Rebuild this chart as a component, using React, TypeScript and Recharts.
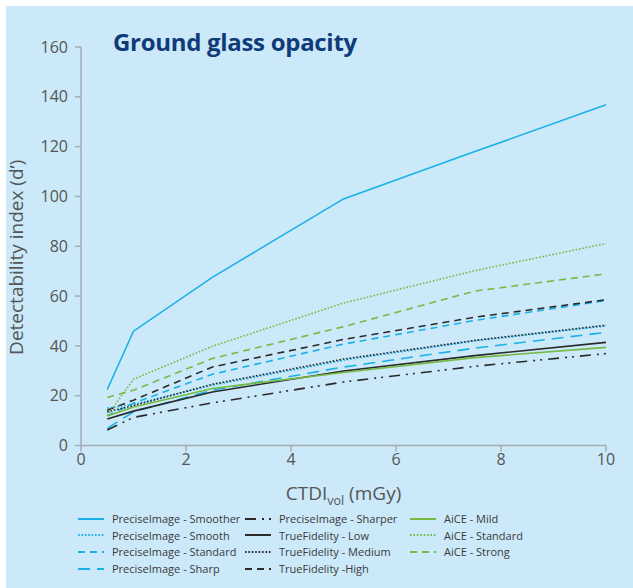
import React from "react"
import { CartesianGrid, Line, LineChart, XAxis, YAxis } from "recharts"

// dose points (CTDIvol, mGy)
const doses = [0.5, 1, 2.5, 5, 7.5, 10]

// detectability index d' per reconstruction
const piSmoother = [22.5, 45.9, 67.5, 99, 118, 136.8]
const piSmooth = [15, 16.5, 24.2, 34.2, 42, 48]
const piStandard = [12, 17, 28.6, 40.7, 50.2, 58.2]
const piSharp = [6.9, 13.5, 22.2, 31.5, 39.1, 45.4]
const piSharper = [6.2, 11.3, 17.1, 25.5, 31.8, 36.9]
const tfLow = [10.6, 13.8, 21.5, 29.9, 36.1, 41.4]
const tfMedium = [13.5, 16, 24.6, 34.7, 42.2, 48.3]
const tfHigh = [14.2, 18.2, 31.5, 42.6, 51.5, 58.5]
const aiceMild = [11.8, 15.5, 22.9, 29.3, 35.3, 39.4]
const aiceStandard = [12, 26.6, 39.8, 57.2, 70.2, 81.1]
const aiceStrong = [19.3, 22.2, 34.9, 47.7, 62, 68.9]

const xTicks = [0, 2, 4, 6, 8, 10]
const yTicks = [0, 20, 40, 60, 80, 100, 120, 140, 160]

const BLUE = "#1ab0e8"
const BLACK = "#2a2a2a"
const GREEN = "#78b944"
const DOT = "1.6 1.8"
const DASH = "7 5"
const LONG = "12 7"
const DASHDOT = "11 6 2 5 2 6"

const series = [
  { key: "piSmoother", name: "PreciseImage - Smoother", values: piSmoother, color: BLUE, dash: undefined },
  { key: "piSmooth", name: "PreciseImage - Smooth", values: piSmooth, color: BLUE, dash: DOT },
  { key: "piStandard", name: "PreciseImage - Standard", values: piStandard, color: BLUE, dash: DASH },
  { key: "piSharp", name: "PreciseImage - Sharp", values: piSharp, color: BLUE, dash: LONG },
  { key: "piSharper", name: "PreciseImage - Sharper", values: piSharper, color: BLACK, dash: DASHDOT },
  { key: "tfLow", name: "TrueFidelity - Low", values: tfLow, color: BLACK, dash: undefined },
  { key: "tfMedium", name: "TrueFidelity - Medium", values: tfMedium, color: BLACK, dash: DOT },
  { key: "tfHigh", name: "TrueFidelity -High", values: tfHigh, color: BLACK, dash: DASH },
  { key: "aiceMild", name: "AiCE - Mild", values: aiceMild, color: GREEN, dash: undefined },
  { key: "aiceStandard", name: "AiCE - Standard", values: aiceStandard, color: GREEN, dash: DOT },
  { key: "aiceStrong", name: "AiCE - Strong", values: aiceStrong, color: GREEN, dash: DASH },
]

const data = doses.map((dose, i) => {
  const row: Record<string, number> = { dose }
  series.forEach((s) => (row[s.key] = s.values[i]))
  return row
})

const FONT = "'Open Sans', 'Noto Sans', sans-serif"
const AXIS = "#a3abb3"

const legendCols = [
  { left: 78, items: series.slice(0, 4) },
  { left: 245, items: series.slice(4, 8) },
  { left: 410, items: series.slice(8) },
]

const Legend = () => (
  <div style={{ position: "absolute", left: 0, top: 510, fontFamily: FONT, fontSize: 11, color: "#3a3a3a" }}>
    {legendCols.map((col) =>
      col.items.map((s, ri) => (
        <div
          key={s.key}
          style={{ position: "absolute", left: col.left, top: ri * 16.7, height: 17, display: "flex", alignItems: "center", whiteSpace: "nowrap" }}
        >
          <svg width={26} height={6} style={{ marginRight: 8 }}>
            <line x1={0} y1={3} x2={26} y2={3} stroke={s.color} strokeWidth={2} strokeDasharray={s.dash} />
          </svg>
          {s.name}
        </div>
      ))
    )}
  </div>
)

const App: React.FC = () => {
  return (
    <div style={{ position: "absolute", left: 0, top: 0, width: 633, height: 588, background: "#fff", overflow: "hidden" }}>
      <div style={{ position: "absolute", left: 6, top: 6, right: 0, bottom: 0, background: "#cbe9f9" }} />
      <div
        style={{
          position: "absolute",
          left: 113,
          top: 25,
          fontFamily: FONT,
          fontWeight: 700,
          fontSize: 24,
          color: "#0f3b78",
          letterSpacing: -0.3,
          whiteSpace: "nowrap",
        }}
      >
        Ground glass opacity
      </div>
      <div style={{ position: "absolute", left: 0, top: 0 }}>
        <LineChart width={633} height={588} data={data} margin={{ top: 47, right: 27, left: 25, bottom: 112.5 }}>
          <CartesianGrid stroke="none" />
          <XAxis
            dataKey="dose"
            type="number"
            domain={[0, 10]}
            ticks={xTicks}
            height={30}
            stroke={AXIS}
            strokeWidth={1.5}
            tickSize={6}
            tick={{ fill: "#555", fontSize: 16, fontFamily: FONT }}
            label={{
              content: (props: any) => {
                const vb = props.viewBox
                const cx = vb.x + vb.width / 2
                return (
                  <text x={cx} y={500} textAnchor="middle" fill="#555" fontFamily={FONT} fontSize={19}>
                    <tspan>CTDI</tspan>
                    <tspan fontSize={12.5} dy={5}>vol</tspan>
                    <tspan dy={-5}> (mGy)</tspan>
                  </text>
                )
              },
            }}
          />
          <YAxis
            type="number"
            domain={[0, 160]}
            ticks={yTicks}
            width={56}
            stroke={AXIS}
            strokeWidth={1.5}
            tickSize={6}
            tickMargin={7}
            tick={{ fill: "#555", fontSize: 16, fontFamily: FONT }}
            label={{
              content: (props: any) => {
                const vb = props.viewBox
                const cy = vb.y + vb.height / 2 + 11
                return (
                  <text
                    x={23}
                    y={cy}
                    transform={`rotate(-90 23 ${cy})`}
                    textAnchor="middle"
                    fill="#555"
                    fontFamily={FONT}
                    fontSize={19}
                  >
                    Detectability index (d’)
                  </text>
                )
              },
            }}
          />
          {series.map((s) => (
            <Line
              key={s.key}
              type="linear"
              dataKey={s.key}
              name={s.name}
              stroke={s.color}
              strokeWidth={1.6}
              strokeDasharray={s.dash}
              dot={false}
              activeDot={false}
              isAnimationActive={false}
            />
          ))}
        </LineChart>
      </div>
      <Legend />
    </div>
  )
}

export default App
